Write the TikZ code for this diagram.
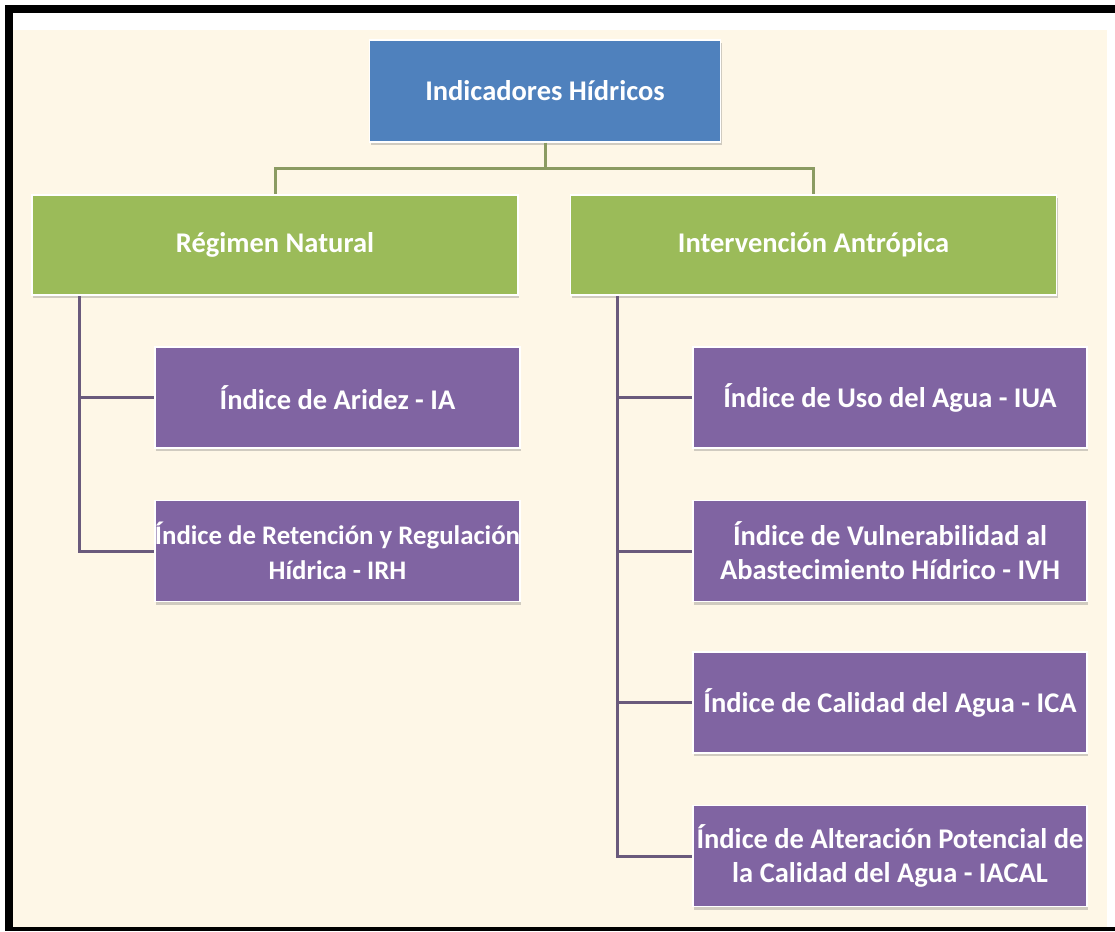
\documentclass[tikz,border=0pt]{standalone}
\usepackage{fontspec}
\setmainfont{Carlito}
\usetikzlibrary{shadows}

\definecolor{cream}{HTML}{FEF7E7}
\definecolor{topblue}{HTML}{4F81BD}
\definecolor{leafgreen}{HTML}{9BBB59}
\definecolor{leafpurple}{HTML}{8064A2}
\definecolor{linegreen}{HTML}{8B9B62}
\definecolor{linepurple}{HTML}{6A5A7C}

\tikzset{
  box/.style={draw=white, line width=1.5pt, text=white, align=center, inner sep=0pt,
    font=\bfseries\fontsize{28.5}{34}\selectfont,
    drop shadow={shadow xshift=1pt, shadow yshift=-3pt, opacity=0.3, fill=black!60}},
  topbox/.style={box, fill=topblue, minimum width=351pt, minimum height=102pt},
  groupbox/.style={box, fill=leafgreen, minimum width=486pt, minimum height=100pt},
  leafbox/.style={box, fill=leafpurple, minimum height=101pt},
  greenlink/.style={draw=linegreen, line width=3pt},
  purplelink/.style={draw=linepurple, line width=3pt}
}

\begin{document}
\begin{tikzpicture}[x=1pt, y=-1pt]
	\useasboundingbox (0,0) rectangle (1115,931);
	\fill[white] (0,0) rectangle (1115,931);
	\fill[cream] (13,30) rectangle (1107,928);
	% frame
	\fill[black] (5,5) rectangle (1115,13);
	\fill[black] (5,5) rectangle (13,931);
	\fill[black] (5,927) rectangle (1115,931);

	\node[topbox] (ind) at (545,91) {Indicadores Hídricos};
	\node[groupbox] (nat) at (275,245) {Régimen Natural};
	\node[groupbox] (ant) at (813.5,245) {Intervención Antrópica};

	\node[leafbox, minimum width=365pt] (ia) at (337.5,397.5) {Índice de Aridez - IA};
	\node[leafbox, minimum width=365pt, font=\bfseries\fontsize{26.8}{35}\selectfont] (irh) at (337.5,551) {Índice de Retención y Regulación\\Hídrica - IRH};

	\node[leafbox, minimum width=394pt] (iua) at (890,397.5) {Índice de Uso del Agua - IUA};
	\node[leafbox, minimum width=394pt] (ivh) at (890,551) {Índice de Vulnerabilidad al\\Abastecimiento Hídrico - IVH};
	\node[leafbox, minimum width=394pt] (ica) at (890,702.5) {Índice de Calidad del Agua - ICA};
	\node[leafbox, minimum width=394pt] (iacal) at (890,856) {Índice de Alteración Potencial de\\la Calidad del Agua - IACAL};

	% connectors
	\draw[greenlink] (ind.south) -- ++(0,26) -| (nat.north);
	\draw[greenlink] (ind.south) -- ++(0,26) -| (ant.north);

	\coordinate (natbus) at (79,296);
	\coordinate (antbus) at (617,296);
	\foreach \leaf in {ia,irh}
		\draw[purplelink] (natbus) |- (\leaf.west);
	\foreach \leaf in {iua,ivh,ica,iacal}
		\draw[purplelink] (antbus) |- (\leaf.west);
\end{tikzpicture}
\end{document}
